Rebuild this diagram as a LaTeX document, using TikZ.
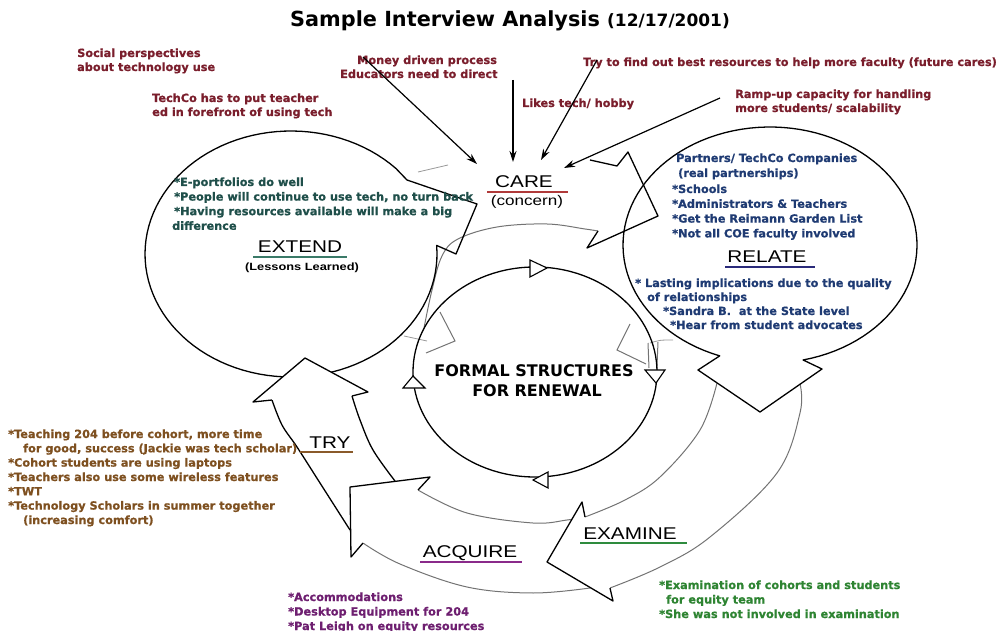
\documentclass[tikz,border=0pt]{standalone}
\usepackage{fontspec}
\setmainfont{DejaVu Sans}
\newfontfamily\bulfont{DejaVu Sans}[BoldFeatures={FakeBold=0.7}]
\newfontfamily\labfont[FakeStretch=1.22]{Liberation Sans}
\usetikzlibrary{arrows.meta}
\definecolor{annc}{HTML}{7A1E2C}
\definecolor{extc}{HTML}{1F4F4A}
\definecolor{relc}{HTML}{1F3B73}
\definecolor{tryc}{HTML}{7E5020}
\definecolor{acqc}{HTML}{6E1F70}
\definecolor{exac}{HTML}{2E8432}
\definecolor{carul}{HTML}{B03A3A}
\definecolor{extul}{HTML}{3A7A68}
\definecolor{relul}{HTML}{2A2A7A}
\definecolor{tryul}{HTML}{8A5A2A}
\definecolor{acqul}{HTML}{8A2A8A}
\definecolor{exaul}{HTML}{2E8B3E}
\begin{document}
\begin{tikzpicture}[x=1pt,y=-1pt,
  ol/.style={line width=1.3pt, black, line join=round},
  body/.style={line width=1pt, black!55},
  faint/.style={line width=0.8pt, black!40},
  head/.style={ol, fill=white},
  tri/.style={line width=1.1pt, black, fill=white},
  bul/.style={inner sep=0pt, anchor=base west, font=\bulfont\bfseries\fontsize{11.3}{13}\selectfont},
  lab/.style={inner sep=0pt, anchor=base, font=\labfont\fontsize{17}{20}\selectfont},
  ann/.style={line width=1.2pt, black, -{Stealth[length=11pt,width=7pt]}},
  ul/.style={line width=2pt}]
\useasboundingbox (0,0) rectangle (1002,631);

% ---------- body edges (thin) ----------
% CARE body
\draw[faint] (418,172) -- (448,165);
\draw[body] plot[smooth, tension=0.6] coordinates {(598,231) (585,229) (547,224) (497,227) (458,239) (442,256) (432,290) (424,328)};
% small arrow top-left into circle
\draw[body] (440,312) -- (455,341) -- (426,353);
\draw[faint] (404,336) -- (427,341);
% TRY body
\draw[ol] plot[smooth, tension=0.6] coordinates {(272,400) (282,425) (297,447) (320,483) (350,530)};
\draw[ol] plot[smooth, tension=0.6] coordinates {(352,396) (360,420) (373,450) (395,481)};
% ACQUIRE body
\draw[body] plot[smooth, tension=0.6] coordinates {(418,490) (467,513) (533,523) (567,520) (585,517)};
\draw[body] plot[smooth, tension=0.6] coordinates {(363,543) (400,564) (467,587) (533,593) (590,588)};
% EXAMINE body
\draw[body] plot[smooth, tension=0.6] coordinates {(585,517) (625,500) (660,477) (700,430) (717,383)};
\draw[body] plot[smooth, tension=0.6] coordinates {(610,588) (660,567) (710,537) (777,473) (800,413) (800,384)};
% small arrow right into circle
\draw[body] (630,324) -- (617,350) -- (646,364);
\draw[body] (648,343) -- (649,368);
\draw[body] (658,342) -- (657,366);
\draw[faint] (650,343) .. controls (660,340) .. (673,340);

% ---------- EXTEND loop ----------
\draw[ol] plot[domain=-4:316, samples=100, variable=\t] ({291+146*cos(\t)},{254+123*sin(\t)})
  -- (407,180) -- (477,204) -- (456,254) -- cycle;

% ---------- RELATE loop ----------
\draw[ol] plot[domain=110:437, samples=100, variable=\t] ({770+147*cos(\t)},{245+118*sin(\t)})
  -- (822,369) -- (760,412) -- (698,370) -- cycle;

% ---------- arrow heads ----------
\draw[ol] (590,160) -- (617,166) -- (628,152) -- (658,216) -- (587,248) -- (598,231);
\draw[head] (272,400) -- (253,402) -- (305,358) -- (368,392) -- (352,396);
\draw[head] (418,490) -- (430,477) -- (350,487) -- (351,557) -- (363,543);
\draw[head] (585,517) -- (582,502) -- (547,562) -- (613,601) -- (610,588);

% ---------- inner circle ----------
\draw[ol] (535,372) ellipse [x radius=122pt, y radius=105pt];
\draw[tri] (530,260) -- (547,268) -- (530,277) -- cycle;
\draw[tri] (645,370) -- (665,370) -- (656,383) -- cycle;
\draw[tri] (548,472) -- (548,488) -- (533,480) -- cycle;
\draw[tri] (403,388) -- (425,388) -- (413,376) -- cycle;
\node[inner sep=0pt, anchor=base, font=\bfseries\fontsize{16}{19}\selectfont] (fs1) at (534,376) {FORMAL STRUCTURES};
\node[inner sep=0pt, anchor=base, font=\bfseries\fontsize{16}{19}\selectfont] (fs2) at (537,396) {FOR RENEWAL};

% ---------- title ----------
\node[inner sep=0pt, anchor=base west, font=\bfseries\fontsize{20.8}{24}\selectfont] (title) at (290,27) {Sample Interview Analysis};
\node[inner sep=0pt, anchor=base west, font=\bfseries\fontsize{17}{20}\selectfont] (date) at (607,27) {(12/17/2001)};

% ---------- top annotations ----------
\node[bul, text=annc] (an1) at (77,57) {Social perspectives};
\node[bul, text=annc] (an2) at (77,71) {about technology use};
\node[bul, text=annc] (an3) at (357,64) {Money driven process};
\node[bul, text=annc] (an4) at (340,78) {Educators need to direct};
\node[bul, text=annc] (an5) at (152,102) {TechCo has to put teacher};
\node[bul, text=annc] (an6) at (152,116) {ed in forefront of using tech};
\node[bul, text=annc] (an7) at (522,107) {Likes tech/ hobby};
\node[bul, text=annc] (an8) at (583,66) {Try to find out best resources to help more faculty (future cares)};
\node[bul, text=annc] (an9) at (735,98) {Ramp-up capacity for handling};
\node[bul, text=annc] (an10) at (735,112) {more students/ scalability};

\coordinate (a1s) at (363,57); \coordinate (a1e) at (477,164);
\coordinate (a2s) at (513,80); \coordinate (a2e) at (513,162);
\coordinate (a3s) at (597,60); \coordinate (a3e) at (541,160);
\coordinate (a4s) at (720,98); \coordinate (a4e) at (564,168);
\draw[ann] (a1s) -- (a1e);
\draw[ann] (a2s) -- (a2e);
\draw[ann] (a3s) -- (a3e);
\draw[ann] (a4s) -- (a4e);

% ---------- stage labels ----------
\node[lab] (care) at (524,188) {CARE};
\draw[ul, carul] (487,192) -- (568,192);
\node[inner sep=0pt, anchor=base, font=\labfont\fontsize{14}{16}\selectfont] (concern) at (527,206) {(concern)};

\node[lab] (extend) at (300,253) {EXTEND};
\draw[ul, extul] (253,257.5) -- (347,257.5);
\node[inner sep=0pt, anchor=base, font=\labfont\bfseries\fontsize{10.5}{12}\selectfont] (lessons) at (302,271) {(Lessons Learned)};

\node[lab] (relate) at (767,263) {RELATE};
\draw[ul, relul] (725,267) -- (815,267);

\node[lab] (try) at (330,448) {TRY};
\draw[ul, tryul] (300,452) -- (353,452);

\node[lab] (acquire) at (470,557) {ACQUIRE};
\draw[ul, acqul] (420,562) -- (522,562);

\node[lab] (examine) at (630,539) {EXAMINE};
\draw[ul, exaul] (580,543) -- (687,543);

% ---------- EXTEND notes ----------
\node[bul, text=extc] (ext0) at (174,186) {*E-portfolios do well};
\node[bul, text=extc] (ext1) at (174,200.6) {*People will continue to use tech, no turn back};
\node[bul, text=extc] (ext2) at (174,215.2) {*Having resources available will make a big};
\node[bul, text=extc] (ext3) at (172,229.8) {difference};

% ---------- RELATE notes ----------
\node[bul, text=relc] (rel0) at (676,162) {Partners/ TechCo Companies};
\node[bul, text=relc] (rel1) at (678,177) {(real partnerships)};
\node[bul, text=relc] (rel2) at (672,193) {*Schools};
\node[bul, text=relc] (rel3) at (672,207.8) {*Administrators \& Teachers};
\node[bul, text=relc] (rel4) at (672,222.6) {*Get the Reimann Garden List};
\node[bul, text=relc] (rel5) at (672,237.4) {*Not all COE faculty involved};
\node[bul, text=relc] (rel6) at (635,287) {* Lasting implications due to the quality};
\node[bul, text=relc] (rel7) at (647,301) {of relationships};
\node[bul, text=relc] (rel8) at (663,315) {*Sandra B.\ \ at the State level};
\node[bul, text=relc] (rel9) at (670,329) {*Hear from student advocates};

% ---------- TRY notes ----------
\node[bul, text=tryc] (try0) at (8,438) {*Teaching 204 before cohort, more time};
\node[bul, text=tryc] (try1) at (23,452.3) {for good, success (Jackie was tech scholar)};
\node[bul, text=tryc] (try2) at (8,466.6) {*Cohort students are using laptops};
\node[bul, text=tryc] (try3) at (8,481) {*Teachers also use some wireless features};
\node[bul, text=tryc] (try4) at (8,495.3) {*TWT};
\node[bul, text=tryc] (try5) at (8,509.6) {*Technology Scholars in summer together};
\node[bul, text=tryc] (try6) at (23,524) {(increasing comfort)};

% ---------- ACQUIRE notes ----------
\node[bul, text=acqc] (acq0) at (288,601) {*Accommodations};
\node[bul, text=acqc] (acq1) at (288,615.5) {*Desktop Equipment for 204};
\node[bul, text=acqc] (acq2) at (288,630) {*Pat Leigh on equity resources};

% ---------- EXAMINE notes ----------
\node[bul, text=exac] (exa0) at (659,589) {*Examination of cohorts and students};
\node[bul, text=exac] (exa1) at (666,603.5) {for equity team};
\node[bul, text=exac] (exa2) at (659,618) {*She was not involved in examination};
\end{tikzpicture}
\end{document}
